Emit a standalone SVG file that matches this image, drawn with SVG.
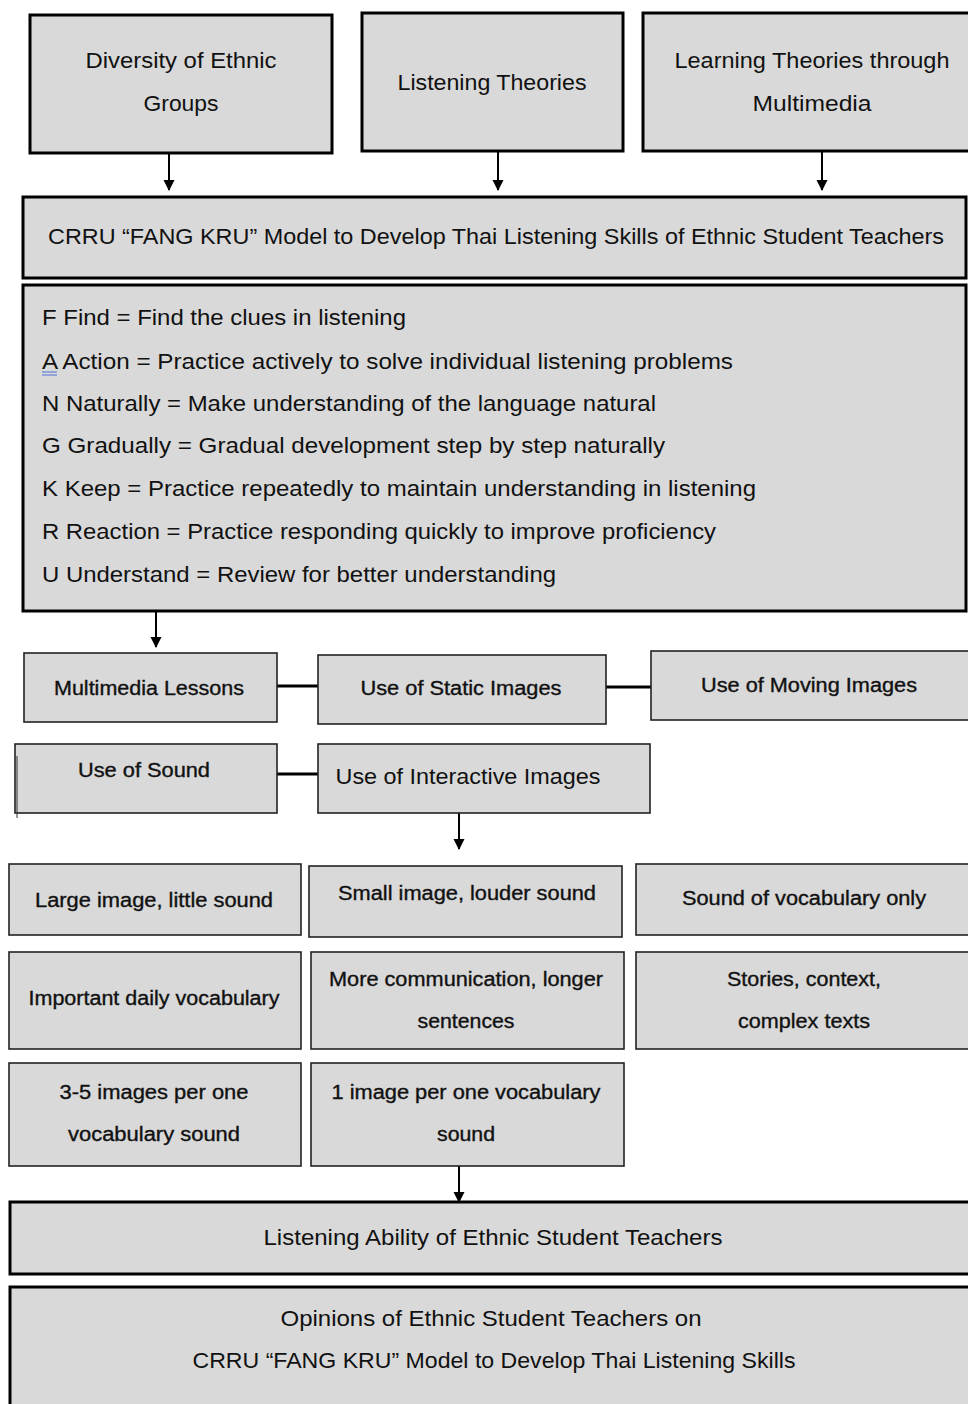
<svg xmlns="http://www.w3.org/2000/svg" width="968" height="1404" viewBox="0 0 968 1404">
<defs>
<style>
.thick{fill:#d9d9d9;stroke:#000;stroke-width:3}
.thin{fill:#d9d9d9;stroke:#222;stroke-width:1.6}
.t1{font-family:"Liberation Sans",Arial,sans-serif;font-size:22px;fill:#111;dominant-baseline:central}
.t2{font-family:"Liberation Sans",Arial,sans-serif;font-size:19.5px;fill:#111;dominant-baseline:central;stroke:#111;stroke-width:0.35}
.c{text-anchor:middle}
.ln{stroke:#000;stroke-width:2;fill:none}
.lk{stroke:#000;stroke-width:3;fill:none}
</style>
<marker id="arr" markerWidth="11" markerHeight="13" refX="10" refY="5.5" orient="auto" markerUnits="userSpaceOnUse">
<path d="M0,0 L11,5.5 L0,11 Z" fill="#000"/>
</marker>
</defs>
<rect width="968" height="1404" fill="#fff"/>

<g id="connectors">
<line class="ln" x1="169" y1="154" x2="169" y2="190" marker-end="url(#arr)"/>
<line class="ln" x1="498" y1="152" x2="498" y2="190" marker-end="url(#arr)"/>
<line class="ln" x1="822" y1="152" x2="822" y2="190" marker-end="url(#arr)"/>
<line class="ln" x1="156" y1="612" x2="156" y2="647" marker-end="url(#arr)"/>
<line class="lk" x1="273" y1="686" x2="318" y2="686"/>
<line class="lk" x1="606" y1="687" x2="651" y2="687"/>
<line class="lk" x1="273" y1="774" x2="318" y2="774"/>
<line class="ln" x1="459" y1="813" x2="459" y2="849" marker-end="url(#arr)"/>
<line class="ln" x1="459" y1="1166" x2="459" y2="1202" marker-end="url(#arr)"/>
</g>

<g id="n-diversity">
<rect class="thick" x="30" y="15" width="302" height="138"/>
<text class="t1 c" x="181" y="60" textLength="191" lengthAdjust="spacingAndGlyphs">Diversity of Ethnic</text>
<text class="t1 c" x="181" y="103" textLength="75" lengthAdjust="spacingAndGlyphs">Groups</text>
</g>
<g id="n-listening">
<rect class="thick" x="362" y="13" width="261" height="138"/>
<text class="t1 c" x="492" y="82" textLength="189" lengthAdjust="spacingAndGlyphs">Listening Theories</text>
</g>
<g id="n-learning">
<rect class="thick" x="643" y="13" width="330" height="138"/>
<text class="t1 c" x="812" y="60" textLength="275" lengthAdjust="spacingAndGlyphs">Learning Theories through</text>
<text class="t1 c" x="812" y="103" textLength="119" lengthAdjust="spacingAndGlyphs">Multimedia</text>
</g>
<g id="n-crru">
<rect class="thick" x="23" y="197" width="943" height="81"/>
<text class="t1 c" x="496" y="236" textLength="896" lengthAdjust="spacingAndGlyphs">CRRU “FANG KRU” Model to Develop Thai Listening Skills of Ethnic Student Teachers</text>
</g>
<g id="n-fang">
<rect class="thick" x="23" y="285" width="943" height="326"/>
<text class="t1" x="42" y="317" textLength="364" lengthAdjust="spacingAndGlyphs">F Find = Find the clues in listening</text>
<text class="t1" x="42" y="361" textLength="691" lengthAdjust="spacingAndGlyphs">A Action = Practice actively to solve individual listening problems</text>
<line x1="42" y1="372" x2="57" y2="372" stroke="#4a6fd6" stroke-width="1"/>
<line x1="42" y1="375" x2="57" y2="375" stroke="#4a6fd6" stroke-width="1"/>
<text class="t1" x="42" y="403" textLength="614" lengthAdjust="spacingAndGlyphs">N Naturally = Make understanding of the language natural</text>
<text class="t1" x="42" y="445" textLength="623" lengthAdjust="spacingAndGlyphs">G Gradually = Gradual development step by step naturally</text>
<text class="t1" x="42" y="488" textLength="714" lengthAdjust="spacingAndGlyphs">K Keep = Practice repeatedly to maintain understanding in listening</text>
<text class="t1" x="42" y="531" textLength="674" lengthAdjust="spacingAndGlyphs">R Reaction = Practice responding quickly to improve proficiency</text>
<text class="t1" x="42" y="574" textLength="514" lengthAdjust="spacingAndGlyphs">U Understand = Review for better understanding</text>
</g>
<g id="n-multimedia">
<rect class="thin" x="24" y="653" width="253" height="69"/>
<text class="t2 c" x="149" y="688" textLength="190" lengthAdjust="spacingAndGlyphs">Multimedia Lessons</text>
</g>
<g id="n-static">
<rect class="thin" x="318" y="655" width="288" height="69"/>
<text class="t2 c" x="461" y="688" textLength="201" lengthAdjust="spacingAndGlyphs">Use of Static Images</text>
</g>
<g id="n-moving">
<rect class="thin" x="651" y="651" width="320" height="69"/>
<text class="t2 c" x="809" y="685" textLength="216" lengthAdjust="spacingAndGlyphs">Use of Moving Images</text>
</g>
<g id="n-sound">
<rect class="thin" x="15" y="744" width="262" height="69"/>
<line x1="17" y1="756" x2="17" y2="818" stroke="#333" stroke-width="1"/>
<text class="t2 c" x="144" y="770" textLength="132" lengthAdjust="spacingAndGlyphs">Use of Sound</text>
</g>
<g id="n-interactive">
<rect class="thin" x="318" y="744" width="332" height="69"/>
<text class="t1 c" x="468" y="776" textLength="265" lengthAdjust="spacingAndGlyphs">Use of Interactive Images</text>
</g>
<g id="n-large">
<rect class="thin" x="9" y="864" width="292" height="71"/>
<text class="t2 c" x="154" y="900" textLength="238" lengthAdjust="spacingAndGlyphs">Large image, little sound</text>
</g>
<g id="n-small">
<rect class="thin" x="309" y="866" width="313" height="71"/>
<text class="t2 c" x="467" y="893" textLength="258" lengthAdjust="spacingAndGlyphs">Small image, louder sound</text>
</g>
<g id="n-soundvocab">
<rect class="thin" x="636" y="864" width="335" height="71"/>
<text class="t2 c" x="804" y="898" textLength="244" lengthAdjust="spacingAndGlyphs">Sound of vocabulary only</text>
</g>
<g id="n-important">
<rect class="thin" x="9" y="952" width="292" height="97"/>
<text class="t2 c" x="154" y="998" textLength="251" lengthAdjust="spacingAndGlyphs">Important daily vocabulary</text>
</g>
<g id="n-morecomm">
<rect class="thin" x="311" y="952" width="313" height="97"/>
<text class="t2 c" x="466" y="979" textLength="274" lengthAdjust="spacingAndGlyphs">More communication, longer</text>
<text class="t2 c" x="466" y="1021" textLength="97" lengthAdjust="spacingAndGlyphs">sentences</text>
</g>
<g id="n-stories">
<rect class="thin" x="636" y="952" width="335" height="97"/>
<text class="t2 c" x="804" y="979" textLength="154" lengthAdjust="spacingAndGlyphs">Stories, context,</text>
<text class="t2 c" x="804" y="1021" textLength="132" lengthAdjust="spacingAndGlyphs">complex texts</text>
</g>
<g id="n-35images">
<rect class="thin" x="9" y="1063" width="292" height="103"/>
<text class="t2 c" x="154" y="1092" textLength="189" lengthAdjust="spacingAndGlyphs">3-5 images per one</text>
<text class="t2 c" x="154" y="1134" textLength="172" lengthAdjust="spacingAndGlyphs">vocabulary sound</text>
</g>
<g id="n-1image">
<rect class="thin" x="311" y="1063" width="313" height="103"/>
<text class="t2 c" x="466" y="1092" textLength="269" lengthAdjust="spacingAndGlyphs">1 image per one vocabulary</text>
<text class="t2 c" x="466" y="1134" textLength="58" lengthAdjust="spacingAndGlyphs">sound</text>
</g>
<g id="n-ability">
<rect class="thick" x="10" y="1202" width="963" height="72"/>
<text class="t1 c" x="493" y="1237" textLength="459" lengthAdjust="spacingAndGlyphs">Listening Ability of Ethnic Student Teachers</text>
</g>
<g id="n-opinions">
<rect class="thick" x="10" y="1287" width="963" height="130"/>
<text class="t1 c" x="491" y="1318" textLength="421" lengthAdjust="spacingAndGlyphs">Opinions of Ethnic Student Teachers on</text>
<text class="t1 c" x="494" y="1360" textLength="603" lengthAdjust="spacingAndGlyphs">CRRU “FANG KRU” Model to Develop Thai Listening Skills</text>
</g>
</svg>
